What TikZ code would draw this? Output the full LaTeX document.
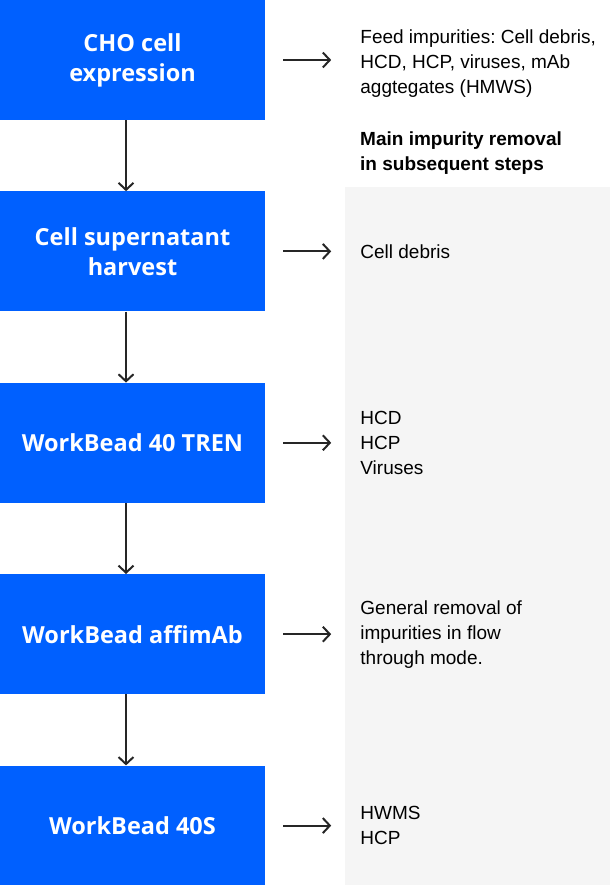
\documentclass[tikz,border=0pt]{standalone}
\usepackage{fontspec}
\setmainfont{Liberation Sans}
\newfontfamily\boxfont{Open Sans}
\usepackage{xcolor}
\usepackage{tikz}
\usetikzlibrary{arrows.meta, positioning}
\definecolor{stepblue}{RGB}{0,96,255}
\definecolor{panelgray}{RGB}{245,245,245}
\frenchspacing

\begin{document}
\begin{tikzpicture}[
    x=1pt, y=1pt,
    node distance=71pt,
    stepbox/.style={rectangle, fill=stepblue, minimum width=265pt, minimum height=120pt, inner sep=0pt, align=center, text=white, font=\boxfont\bfseries\fontsize{23.5}{30}\selectfont},
    note/.style={anchor=west, inner sep=0pt, align=left, font=\fontsize{19}{25}\selectfont},
    arr/.style={-{Straight Barb[length=7pt, width=15pt]}, line width=2pt, draw=black!85}
]
\useasboundingbox (0,0) rectangle (610,-885);

% grey panel behind the notes
\fill[panelgray] (345,-187) rectangle (610,-885);

% process steps (left column)
\node[stepbox] (s1) at (132.5,-60) {CHO cell\\expression};
\node[stepbox, below=of s1] (s2) {Cell supernatant\\harvest};
\node[stepbox, below=of s2] (s3) {WorkBead 40 TREN};
\node[stepbox, below=of s3] (s4) {WorkBead affimAb};
\node[stepbox, below=of s4] (s5) {WorkBead 40S};

\draw[arr] ([xshift=-6.5pt]s1.south) -- ([xshift=-6.5pt]s2.north);
\draw[arr] ([xshift=-6.5pt]s2.south) -- ([xshift=-6.5pt]s3.north);
\draw[arr] ([xshift=-6.5pt]s3.south) -- ([xshift=-6.5pt]s4.north);
\draw[arr] ([xshift=-6.5pt]s4.south) -- ([xshift=-6.5pt]s5.north);

% impurities (right column)
\node[note, right=95pt of s1, yshift=-4pt] (n1) {Feed impurities: Cell debris,\\HCD, HCP, viruses, mAb\\aggtegates (HMWS)};
\node[note, font=\bfseries\fontsize{19}{25}\selectfont] (hd) at (360,-153) {Main impurity removal\\in subsequent steps};
\node[note, right=95pt of s2] (n2) {Cell debris};
\node[note, right=95pt of s3] (n3) {HCD\\HCP\\Viruses};
\node[note, right=95pt of s4] (n4) {General removal of\\impurities in flow\\through mode.};
\node[note, right=95pt of s5] (n5) {HWMS\\HCP};

\draw[arr, shorten <=18pt, shorten >=29pt] (s1.east) -- (s1.east -| n1.west);
\draw[arr, shorten <=18pt, shorten >=29pt] (s2.east) -- (n2.west);
\draw[arr, shorten <=18pt, shorten >=29pt] (s3.east) -- (n3.west);
\draw[arr, shorten <=18pt, shorten >=29pt] (s4.east) -- (n4.west);
\draw[arr, shorten <=18pt, shorten >=29pt] (s5.east) -- (n5.west);

\end{tikzpicture}
\end{document}
